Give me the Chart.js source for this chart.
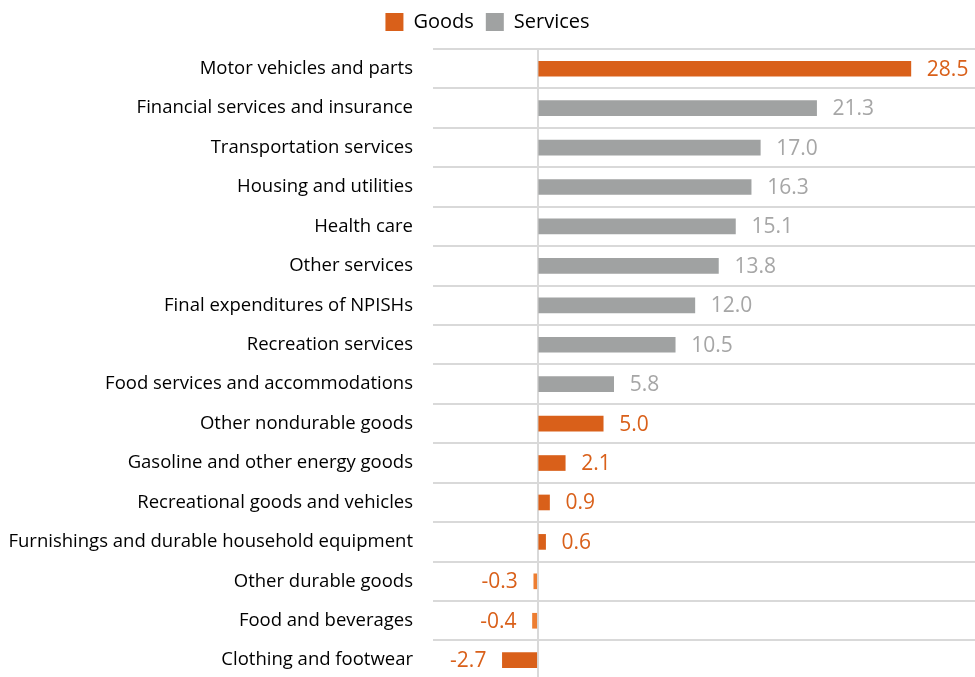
<!DOCTYPE html>
<html>
<head>
<meta charset="utf-8">
<script src="https://cdn.jsdelivr.net/npm/chart.js@4"></script>
<style>
  html, body { margin: 0; padding: 0; background: #fff; overflow: hidden; }
  #wrap { position: absolute; left: 0; top: 0; width: 975px; height: 711px; }
</style>
</head>
<body>
<div id="wrap"><canvas id="chart" width="975" height="711"></canvas></div>
<script>
// Contributions by category
const categories = [
    'Motor vehicles and parts',
    'Financial services and insurance',
    'Transportation services',
    'Housing and utilities',
    'Health care',
    'Other services',
    'Final expenditures of NPISHs',
    'Recreation services',
    'Food services and accommodations',
    'Other nondurable goods',
    'Gasoline and other energy goods',
    'Recreational goods and vehicles',
    'Furnishings and durable household equipment',
    'Other durable goods',
    'Food and beverages',
    'Clothing and footwear'
];
const goodsValues = [28.5, null, null, null, null, null, null, null, null, 5.0, 2.1, 0.9, 0.6, -0.3, -0.4, -2.7];
const servicesValues = [null, 21.3, 17.0, 16.3, 15.1, 13.8, 12.0, 10.5, 5.8, null, null, null, null, null, null, null];

const ORANGE = '#d9601a';
const ORANGE_LIGHT = '#ed7d31';
const GREY = '#a0a2a2';
const GREY_TEXT = '#a6a6a6';
const FONT = "'Open Sans', Lato, sans-serif";

// value labels at the end of each bar
const barLabels = {
    id: 'barLabels',
    beforeUpdate(chart) {
        // push the plot area down a little under the legend
        const lg = chart.legend;
        if (lg && !lg._patched) {
            const fit = lg.fit;
            lg.fit = function() { fit.call(this); this.height += 7; };
            lg._patched = true;
        }
    },
    afterDatasetsDraw(chart) {
        const ctx = chart.ctx;
        ctx.save();
        ctx.font = '21px ' + FONT;
        ctx.textBaseline = 'middle';
        chart.data.datasets.forEach(function(ds, i) {
            const meta = chart.getDatasetMeta(i);
            meta.data.forEach(function(bar, j) {
                const v = ds.data[j];
                if (v === null) return;
                ctx.fillStyle = ds.labelColor;
                if (v >= 0) {
                    ctx.textAlign = 'left';
                    ctx.fillText(v.toFixed(1), bar.x + 16, bar.y + 1);
                } else {
                    ctx.textAlign = 'right';
                    ctx.fillText(v.toFixed(1), bar.x - 16, bar.y + 1);
                }
            });
        });
        ctx.restore();
    }
};

new Chart(document.getElementById('chart').getContext('2d'), {
    type: 'bar',
    data: {
        labels: categories,
        datasets: [{
            label: 'Goods',
            data: goodsValues,
            backgroundColor: goodsValues.map(function(v) {
                return (v !== null && v < 0 && v > -1) ? ORANGE_LIGHT : ORANGE;
            }),
            labelColor: ORANGE,
            barThickness: 15
        }, {
            label: 'Services',
            data: servicesValues,
            backgroundColor: GREY,
            labelColor: GREY_TEXT,
            barThickness: 15
        }]
    },
    options: {
        indexAxis: 'y',
        responsive: false,
        animation: false,
        layout: { padding: { top: 0, bottom: 10, left: 0, right: 0 } },
        plugins: {
            legend: {
                position: 'top',
                labels: {
                    boxWidth: 18,
                    boxHeight: 18,
                    padding: 12,
                    color: '#000',
                    font: { family: FONT, size: 20 },
                    generateLabels: function(chart) {
                        return [
                            { text: 'Goods', fillStyle: ORANGE, strokeStyle: ORANGE, lineWidth: 0, datasetIndex: 0 },
                            { text: 'Services', fillStyle: GREY, strokeStyle: GREY, lineWidth: 0, datasetIndex: 1 }
                        ];
                    }
                }
            },
            tooltip: { enabled: false }
        },
        scales: {
            x: {
                stacked: true,
                min: -8,
                max: 33.4,
                afterFit: function(scale) { scale.height = 0; },
                ticks: { display: false, stepSize: 1 },
                border: { display: false },
                grid: {
                    drawTicks: false,
                    lineWidth: 2,
                    color: function(c) {
                        return c.tick && c.tick.value === 0 ? '#d9d9d9' : 'rgba(0,0,0,0)';
                    }
                }
            },
            y: {
                stacked: true,
                afterFit: function(scale) { scale.width = 433; },
                ticks: {
                    padding: 20,
                    color: '#000',
                    font: { family: FONT, size: 18.5 }
                },
                border: { display: false },
                grid: {
                    drawTicks: false,
                    offset: true,
                    color: '#d9d9d9',
                    lineWidth: 2
                }
            }
        }
    },
    plugins: [barLabels]
});
</script>
</body>
</html>
